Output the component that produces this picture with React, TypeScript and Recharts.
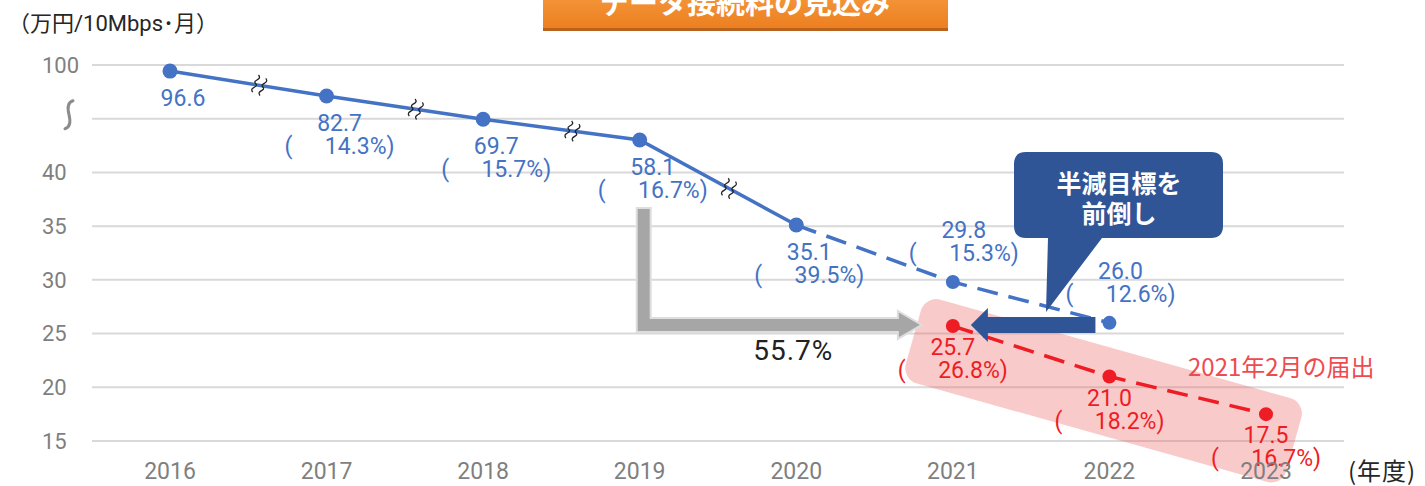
import { LineChart, Line, XAxis, YAxis, CartesianGrid, ReferenceLine } from "recharts";

// データ接続料の見込み (万円/10Mbps・月)
const YEARS = ["2016", "2017", "2018", "2019", "2020", "2021", "2022", "2023"];
const ACTUAL = [96.6, 82.7, 69.7, 58.1, 35.1, null, null, null];
const ACTUAL_PCT = [null, 14.3, 15.7, 16.7, 39.5, null, null, null];
const PLAN = [null, null, null, null, 35.1, 29.8, 26.0, null];
const PLAN_PCT = [null, null, null, null, null, 15.3, 12.6, null];
const FILED = [null, null, null, null, null, 25.7, 21.0, 17.5];
const FILED_PCT = [null, null, null, null, null, 26.8, 18.2, 16.7];
const Y_TICKS = [15, 20, 25, 30, 35, 40, 45, 50];
const Y_TICK_LABELS = ["15", "20", "25", "30", "35", "40", "≀", "100"];
const REDUCTION = "55.7%";

// axis is broken above 40: 40..100 squeezed into 40..50
const BREAK_AT = 40;
const BREAK_RATIO = 6;
const squash = (v: number | null) =>
  v == null ? null : v > BREAK_AT ? BREAK_AT + (v - BREAK_AT) / BREAK_RATIO : v;

const data = YEARS.map((year, i) => ({
  year,
  actual: squash(ACTUAL[i]),
  plan: squash(PLAN[i]),
  filed: squash(FILED[i]),
}));

const BLUE = "#4472c4";
const RED = "#ee1c24";
const NAVY = "#2f5597";
const GRAY_TXT = "#7f7f7f";
const NUM_FONT = "Roboto, 'Noto Sans CJK JP', sans-serif";
const JP_FONT = "'Noto Sans CJK JP', sans-serif";

const actualPts: ({ x: number; y: number } | undefined)[] = [];

function ValueLabel({ cx, cy, value, pct, color }: any) {
  return (
    <g fontFamily={NUM_FONT} fontSize={23} fill={color}>
      <text x={cx} y={cy} textAnchor="middle">
        {value.toFixed(1)}
      </text>
      {pct != null && (
        <>
          <text x={cx - 55} y={cy + 23} textAnchor="start">(</text>
          <text x={cx + 55} y={cy + 23} textAnchor="end">
            {pct.toFixed(1)}%)
          </text>
        </>
      )}
    </g>
  );
}

// small "≈" break symbol drawn across the line
function BreakMark({ x, y }: { x: number; y: number }) {
  const d = "M -1 -9 C 5 -6, -5 -2, 0 0 C 5 2, -5 6, 1 9";
  return (
    <g transform={`translate(${x},${y}) rotate(25)`} fill="none" stroke="#222" strokeWidth={1.3}>
      <path d={d} transform="translate(-4,0)" />
      <path d={d} transform="translate(4,0)" />
    </g>
  );
}

const actualDot = (p: any) => {
  const { cx, cy, index } = p;
  if (cx == null || cy == null || ACTUAL[index] == null) return <g key={`a${index}`} />;
  actualPts[index] = { x: cx, y: cy };
  const prev = index > 0 ? actualPts[index - 1] : undefined;
  const t = 0.57;
  return (
    <g key={`a${index}`}>
      {prev && <BreakMark x={prev.x + (cx - prev.x) * t} y={prev.y + (cy - prev.y) * t} />}
      <circle cx={cx} cy={cy} r={7.5} fill={BLUE} />
      <ValueLabel cx={cx + 13} cy={cy + 35} value={ACTUAL[index]} pct={ACTUAL_PCT[index]} color={BLUE} />
    </g>
  );
};

const planDot = (p: any) => {
  const { cx, cy, index } = p;
  if (cx == null || cy == null || PLAN[index] == null) return <g key={`p${index}`} />;
  return (
    <g key={`p${index}`}>
      <circle cx={cx} cy={cy} r={7} fill={BLUE} />
      {PLAN_PCT[index] != null && (
        <ValueLabel cx={cx + 11} cy={cy - 44} value={PLAN[index]} pct={PLAN_PCT[index]} color={BLUE} />
      )}
    </g>
  );
};

const filedDot = (p: any) => {
  const { cx, cy, index } = p;
  if (cx == null || cy == null || FILED[index] == null) return <g key={`f${index}`} />;
  return (
    <g key={`f${index}`}>
      <circle cx={cx} cy={cy} r={7} fill={RED} />
      <ValueLabel cx={cx} cy={cy + 29} value={FILED[index]} pct={FILED_PCT[index]} color={RED} />
    </g>
  );
};

const YTick = ({ y, payload }: any) => {
  const i = Y_TICKS.indexOf(payload.value);
  if (Y_TICK_LABELS[i] === "≀") {
    return (
      <path
        d="M 4 -14 C -3 -12, -1 -4, 0 0 C 1 4, 3 12, -4 14"
        transform={`translate(69,${y - 4})`}
        fill="none"
        stroke="#8c8c8c"
        strokeWidth={3}
        strokeLinecap="round"
      />
    );
  }
  return (
    <text x={42} y={y} dy="0.36em" fontFamily={NUM_FONT} fontSize={22} fill={GRAY_TXT}>
      {Y_TICK_LABELS[i]}
    </text>
  );
};

const XTick = ({ x, y, payload }: any) => (
  <text x={x} y={y + 30} textAnchor="middle" fontFamily={NUM_FONT} fontSize={23} fill={GRAY_TXT}>
    {payload.value}
  </text>
);

const FiledBand = ({ x1, y1, x2, y2 }: any) => {
  const ang = (Math.atan2(y2 - y1, x2 - x1) * 180) / Math.PI;
  const len = Math.hypot(x2 - x1, y2 - y1);
  return (
    <g>
      <g transform={`translate(${x1},${y1}) rotate(${ang})`}>
        <rect x={-35} y={-22} width={len + 70} height={87} rx={16} fill="#ee6666" fillOpacity={0.35} />
      </g>
      <text x={x2 - 78} y={y2 - 38} fontFamily={JP_FONT} fontSize={24} fill="#ef4a4f">
        2021年2月の届出
      </text>
    </g>
  );
};

const GrayArrow = ({ x1, y1, x2, y2 }: any) => {
  const bx = x1 + 4;
  const h = 7;
  const tip = x2 - 31;
  const d = `M ${bx - h} ${y1} L ${bx + h} ${y1} L ${bx + h} ${y2 - h} L ${tip - 24} ${y2 - h} L ${tip - 24} ${y2 - 14} L ${tip} ${y2} L ${tip - 24} ${y2 + 14} L ${tip - 24} ${y2 + h} L ${bx - h} ${y2 + h} Z`;
  return (
    <g>
      <path d={d} fill="#a6a6a6" stroke="#dedede" strokeWidth={2} />
      <text x={(x1 + x2) / 2 - 3} y={y2 + 35} textAnchor="middle" fontFamily={NUM_FONT} fontSize={28} fill="#222" letterSpacing={1}>
        {REDUCTION}
      </text>
    </g>
  );
};

const NavyArrow = ({ x1, y1, x2 }: any) => {
  const y = y1;
  const tail = x1 - 14;
  const tip = x2 + 18;
  const base = tip + 17;
  const d = `M ${tail} ${y - 8} L ${base} ${y - 8} L ${base} ${y - 17} L ${tip} ${y} L ${base} ${y + 17} L ${base} ${y + 8} L ${tail} ${y + 8} Z`;
  return <path d={d} fill={NAVY} />;
};

export default function App() {
  return (
    <div style={{ position: "absolute", left: 0, top: 0, width: 1425, height: 486, background: "#fff", overflow: "hidden" }}>
      <LineChart width={1425} height={486} data={data} margin={{ top: 65, right: 81, bottom: 0, left: 0 }}>
        <CartesianGrid vertical={false} stroke="#d9d9d9" strokeWidth={2} />
        <XAxis
          dataKey="year"
          height={45}
          padding={{ left: 78, right: 78 }}
          axisLine={false}
          tickLine={false}
          tick={<XTick />}
        />
        <YAxis
          width={92}
          domain={[15, 50]}
          ticks={Y_TICKS}
          interval={0}
          axisLine={false}
          tickLine={false}
          tick={<YTick />}
        />
        <ReferenceLine
          segment={[{ x: "2021", y: squash(FILED[5]) as number }, { x: "2023", y: squash(FILED[7]) as number }]}
          ifOverflow="visible"
          shape={<FiledBand />}
        />
        <ReferenceLine
          segment={[{ x: "2019", y: 36.7 }, { x: "2021", y: 25.8 }]}
          ifOverflow="visible"
          shape={<GrayArrow />}
        />
        <Line dataKey="plan" stroke={BLUE} strokeWidth={3.5} strokeDasharray="21 11" dot={planDot} isAnimationActive={false} />
        <Line dataKey="filed" stroke={RED} strokeWidth={3.5} strokeDasharray="21 11" dot={filedDot} isAnimationActive={false} />
        <Line dataKey="actual" stroke={BLUE} strokeWidth={3.5} dot={actualDot} isAnimationActive={false} />
        <ReferenceLine
          segment={[{ x: "2022", y: 25.8 }, { x: "2021", y: 25.8 }]}
          ifOverflow="visible"
          shape={<NavyArrow />}
        />
      </LineChart>
      <svg width={1425} height={486} style={{ position: "absolute", left: 0, top: 0, pointerEvents: "none" }}>
        <defs>
          <linearGradient id="titleGrad" x1="0" y1="0" x2="0" y2="1">
            <stop offset="0%" stopColor="#f7a045" />
            <stop offset="100%" stopColor="#ec7d1e" />
          </linearGradient>
        </defs>
        <rect x={543} y={-20} width={405} height={51} fill="url(#titleGrad)" />
        <rect x={543} y={28} width={405} height={3} fill="#b9621e" />
        <text x={745} y={14} textAnchor="middle" fontFamily={JP_FONT} fontWeight={700} fontSize={29} fill="#fff">
          データ接続料の見込み
        </text>
        <text x={8} y={31} fontFamily={NUM_FONT} fontSize={22} fill="#262626">
          （万円/10Mbps･月）
        </text>
        <text x={1348} y={480} fontFamily={JP_FONT} fontSize={24} fill="#262626" letterSpacing={1}>
          (年度)
        </text>
        <path d="M 1026 152 H 1211 Q 1223 152 1223 164 V 226 Q 1223 238 1211 238 H 1102 L 1046 312 L 1048 238 H 1026 Q 1014 238 1014 226 V 164 Q 1014 152 1026 152 Z" fill={NAVY} />
        <text x={1119} y={193} textAnchor="middle" fontFamily={JP_FONT} fontWeight={700} fontSize={25} fill="#fff">
          半減目標を
        </text>
        <text x={1119} y={223} textAnchor="middle" fontFamily={JP_FONT} fontWeight={700} fontSize={25} fill="#fff">
          前倒し
        </text>
      </svg>
    </div>
  );
}
